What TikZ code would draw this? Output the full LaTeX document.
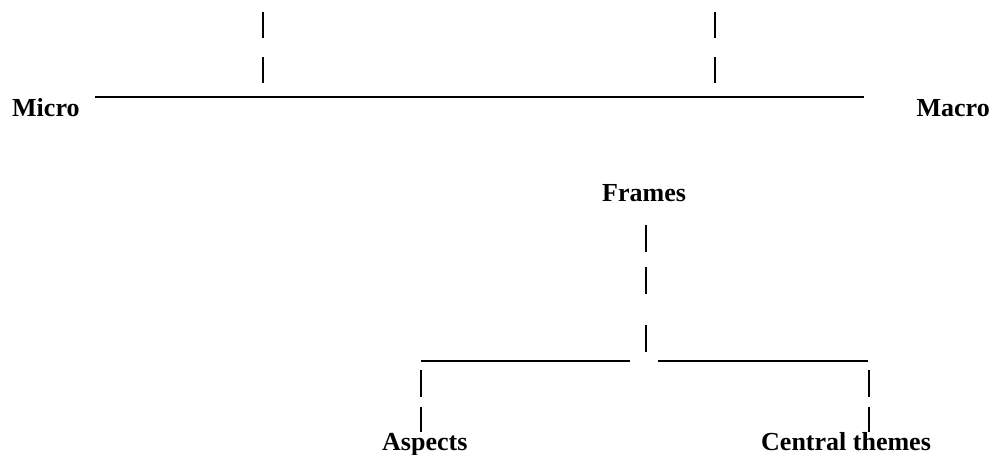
\documentclass[tikz,border=0pt]{standalone}
\usepackage{fontspec}
\setmainfont{Liberation Serif}
\begin{document}
\begin{tikzpicture}[x=1pt,y=-1pt,
  label/.style={font=\fontsize{26}{30}\selectfont\bfseries, inner sep=0pt},
  rule/.style={line width=1.5pt, line cap=butt}]
\useasboundingbox (0,0) rectangle (993,455);

% scale end labels
\node[label, anchor=base west] (micro) at (12,116) {Micro};
\node[label, anchor=base east] (macro) at (990,116) {Macro};

% the micro-macro axis
\coordinate (axL) at (95,97);
\coordinate (axR) at (864,97);
\draw[rule] (axL) -- (axR);

% broken ticks over the axis
\foreach \x in {263,715} {
  \draw[rule] (\x,12) -- (\x,38);
  \draw[rule] (\x,57) -- (\x,83);
}

% frames and its two branches
\node[label, anchor=base west] (frames) at (602,201) {Frames};
\node[label, anchor=base west] (aspects) at (382,450) {Aspects};
\node[label, anchor=base west] (themes) at (761,450) {Central themes};

\draw[rule] (646,225) -- (646,252);
\draw[rule] (646,267) -- (646,294);
\draw[rule] (646,325) -- (646,352);

\coordinate (brL) at (421,361);
\coordinate (brLm) at (630,361);
\coordinate (brRm) at (658,361);
\coordinate (brR) at (868,361);
\draw[rule] (brL) -- (brLm);
\draw[rule] (brRm) -- (brR);

\foreach \x in {421,869} {
  \draw[rule] (\x,370) -- (\x,397);
  \draw[rule] (\x,407) -- (\x,432);
}
\end{tikzpicture}
\end{document}
